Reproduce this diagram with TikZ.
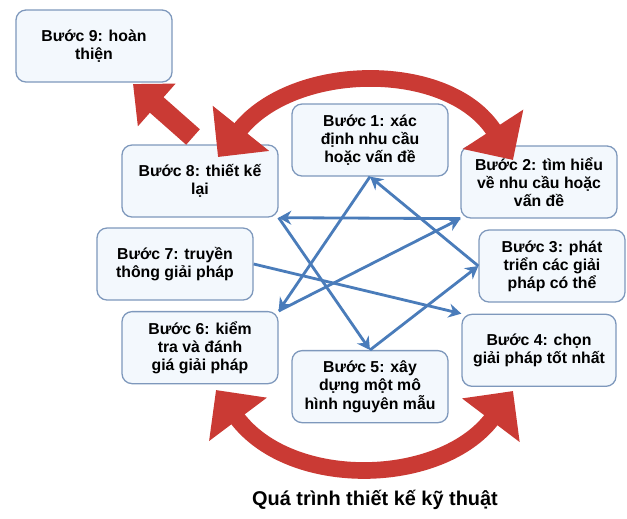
\documentclass[tikz,border=0pt]{standalone}
\usepackage{fontspec}
\setmainfont{Liberation Sans}
\usepackage{tikz}
\usetikzlibrary{positioning,arrows.meta}
\definecolor{boxline}{RGB}{126,152,188}
\definecolor{boxfill}{RGB}{243,248,253}
\definecolor{starblue}{RGB}{74,124,186}
\definecolor{cyclered}{RGB}{202,58,52}

\begin{document}
\begin{tikzpicture}[
  x=0.03cm, y=-0.03cm,
  every node/.style={font=\bfseries\fontsize{13.5}{15.5}\selectfont, align=center},
  stepbox/.style={draw=boxline, line width=1.1pt, rounded corners=0.3cm, fill=boxfill, minimum width=4.68cm, minimum height=2.16cm, inner sep=2pt},
  starline/.style={draw=starblue, line width=2.4pt, -{Stealth[length=0.38cm, width=0.42cm]}},
  cyclearc/.style={draw=cyclered, line width=0.5cm, {Triangle[length=1.1cm, width=2.1cm]}-{Triangle[length=1.1cm, width=2.1cm]}},
  jumparrow/.style={draw=cyclered, line width=0.62cm, -{Triangle[length=0.95cm, width=1.65cm]}}
]
  \useasboundingbox (0,0) rectangle (627,518);

  \node[stepbox] (b1) at (370,140) {Bước 1: xác\\định nhu cầu\\hoặc vấn đề};
  \node[stepbox] (b2) at (539,182) {Bước 2: tìm hiểu\\về nhu cầu hoặc\\vấn đề};
  \node[stepbox, minimum width=4.38cm] (b3) at (552,266) {Bước 3: phát\\triển các giải\\pháp có thể};
  \node[stepbox, below=2.85cm of b2.south, anchor=north, minimum width=4.62cm] (b4) {Bước 4: chọn\\giải pháp tốt nhất};
  \node[stepbox, below=5.2cm of b1.south, anchor=north] (b5) {Bước 5: xây\\dựng một mô\\hình nguyên mẫu};
  \node[stepbox] (b8) at (200,181) {Bước 8: thiết kế\\lại};
  \node[stepbox, below=2.8cm of b8.south, anchor=north] (b6) {Bước 6: kiểm\\tra và đánh\\giá giải pháp};
  \node[stepbox] (b7) at (175,264) {Bước 7: truyền\\thông giải pháp};
  \node[stepbox] (b9) at (94,46) {Bước 9: hoàn\\thiện};

  \draw[starline] (b1.south) -- (b6.north east);
  \draw[starline] (b6.north east) -- (b2.south west);
  \draw[starline] (b2.south west) -- (b8.south east);
  \draw[starline] (b8.south east) -- (b5.north);
  \draw[starline] (b5.north) -- (b3.west);
  \draw[starline] (b3.west) -- (b1.south);
  \draw[starline] (b7.east) -- (b4.north west);

  \coordinate (t8) at (218,157);
  \coordinate (t2) at (513,160);
  \coordinate (t6) at (216,390);
  \coordinate (t4) at (513,391);
  \coordinate (j8) at (193,137);
  \coordinate (j9) at (133,84);
  \draw[cyclearc] (t8) .. controls (294,62) and (448,60) .. (t2);
  \draw[cyclearc] (t6) .. controls (291,490) and (441,486) .. (t4);
  \draw[jumparrow] (j8) -- (j9);

  \node[font=\bfseries\fontsize{17}{20}\selectfont] (title) at (375,500) {Quá trình thiết kế kỹ thuật};
\end{tikzpicture}
\end{document}
